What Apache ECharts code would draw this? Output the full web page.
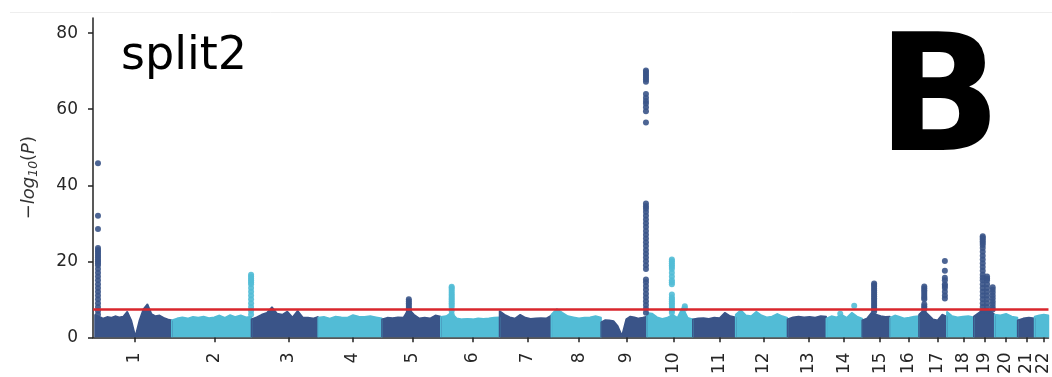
<!DOCTYPE html>
<html>
<head>
<meta charset="utf-8">
<script src="https://cdn.jsdelivr.net/npm/echarts@6/dist/echarts.min.js"></script>
<style>
html,body{margin:0;padding:0;background:#fff;}
#chart{width:1052px;height:377px;}
</style>
</head>
<body>
<div id="chart"></div>
<script>
// Chromosome layout (cumulative genome position, Mb)
const chromosomes = ['1','2','3','4','5','6','7','8','9','10','11','12','13','14','15','16','17','18','19','20','21','22'];
const chrStart = [6, 237, 477, 678, 870, 1047, 1224, 1380, 1530, 1668, 1806, 1935, 2091, 2208, 2316, 2400, 2487, 2571, 2652, 2715, 2784, 2835];
const chrEnd   = [237, 477, 678, 870, 1047, 1224, 1380, 1530, 1668, 1806, 1935, 2091, 2208, 2316, 2400, 2487, 2571, 2652, 2715, 2784, 2835, 2877];
const tickPos  = [126, 366, 588, 783, 963, 1143, 1308, 1464, 1608, 1749, 1887, 2019, 2154, 2262, 2370, 2457, 2544, 2622, 2685, 2748, 2811, 2862];
const yTicks = [0, 20, 40, 60, 80];
const threshold = 7.3;

// Upper edge of the dense background SNP cloud per chromosome (-log10 P), evenly spaced along each chromosome
const bgTop = [
  [6, 5.5, 5, 5.4, 5.2, 5.6, 5.3, 5.5, 6.8, 4.5, 0.3, 4.5, 7.5, 8.8, 6.2, 5.6, 5.8, 5.2, 4.8, 4.5],
  [4.5, 5.0, 5.3, 5.0, 5.4, 5.2, 5.5, 5.1, 5.3, 5.8, 5.2, 5.9, 5.4, 5.8, 5.3, 5.5],
  [4.8, 5.3, 6.0, 6.5, 8.0, 6.3, 6.0, 6.8, 5.3, 7.0, 5.3, 5.2, 5.0, 5.4],
  [5.2, 5.4, 5.0, 5.5, 5.3, 5.2, 5.9, 5.5, 5.4, 5.6, 5.3, 5.0],
  [4.8, 5.2, 5.1, 5.3, 5.2, 7.5, 6.0, 5.0, 5.2, 5.0, 5.8, 5.5],
  [5.4, 5.6, 6.5, 5.0, 4.8, 4.9, 4.8, 5.0, 4.9, 5.0, 5.2, 5.3],
  [7.0, 6.0, 5.3, 5.0, 6.0, 5.2, 4.9, 5.0, 5.1, 5.0, 5.8],
  [6.0, 7.5, 6.5, 5.6, 5.3, 5.0, 5.2, 5.3, 5.6, 5.2],
  [4.0, 4.6, 4.5, 4.3, 3.0, 0.5, 4.8, 5.5, 5.3, 5.0, 5.2, 5.5],
  [6.5, 6.3, 5.3, 4.9, 5.2, 6.0, 5.2, 8.0, 5.2, 4.8],
  [4.8, 5.0, 5.1, 4.9, 5.2, 5.1, 6.5, 5.6, 5.3],
  [6.0, 7.2, 5.8, 5.6, 6.8, 5.8, 5.3, 5.5, 6.2, 5.6, 5.2],
  [4.8, 5.3, 5.5, 5.3, 5.4, 5.2, 5.6, 5.5],
  [5.0, 5.6, 5.3, 6.0, 5.2, 6.5, 5.5, 5.0],
  [4.5, 5.0, 6.5, 6.0, 5.6, 5.4, 5.5],
  [5.2, 5.8, 5.4, 5.0, 5.2, 5.5, 5.6],
  [6.0, 7.2, 6.0, 4.8, 4.5, 6.0, 5.5],
  [6.8, 5.6, 5.3, 5.5, 5.6, 5.3],
  [5.5, 6.5, 7.5, 7.2, 6.0],
  [6.0, 5.8, 6.2, 5.5, 5.2],
  [4.5, 5.0, 5.2, 5.0],
  [5.5, 5.8, 6.0, 5.8]
];

// Associated loci: position, chromosome index and the -log10 P of the SNPs standing out above the cloud
const hitPos = [15, 476, 951, 1080, 1665, 1743, 1782, 2250, 2292, 2352, 2503, 2565, 2679, 2692, 2709];
const hitChr = [0, 1, 4, 5, 8, 9, 9, 13, 13, 14, 16, 16, 18, 18, 18];
const hitVals = [
  [45.8, 32.0, 28.5, 23.5, 23, 22.5, 22, 21.5, 21, 20.5, 20, 19.5, 19, 18, 17, 16, 15, 14, 13, 12, 11, 10, 9, 8, 7, 6],
  [16.5, 16, 15.5, 15, 14.5, 14, 13, 12, 11, 10, 9, 8, 7, 6],
  [10, 9.5, 9, 8.5, 8, 7.5, 7, 6.5, 6],
  [13.3, 13, 12.5, 12, 11.5, 11, 10.5, 10, 9.5, 9, 8.5, 8, 7, 6],
  [70.2, 69.8, 69.3, 68.8, 68.3, 67.8, 67.2, 64, 63, 62.2, 61.5, 60.5, 59.5, 56.5,
   35.2, 34.5, 33.8, 33, 32, 31, 30, 29, 28, 27, 26, 25, 24, 23, 22, 21, 20, 19, 18,
   15.2, 14.5, 13.5, 12.5, 11.5, 10.5, 9.5, 8.5, 7.5, 6.5],
  [20.5, 20, 19.5, 19, 18.5, 18, 17, 16, 15, 14.5, 14, 11.3, 10.5, 10, 9.5, 9, 8.5, 8, 7.5, 7, 6.5],
  [8.2, 7.6],
  [6.2],
  [8.3],
  [14.2, 13.8, 13.3, 12.8, 12.3, 11.8, 11.3, 10.8, 10.3, 9.8, 9.3, 8.8, 8.3, 7.8, 7.3, 6.8],
  [13.4, 12.9, 12.4, 11.9, 11.4, 10.9, 10.4, 10, 8.7, 8.2, 7.7, 7.3],
  [20.1, 17.5, 15.7, 15, 14, 13.5, 13, 12, 11, 10.2],
  [26.6, 26.2, 25.8, 25.3, 24.8, 24.3, 23.5, 22.5, 21.5, 20.5, 19.5, 18.5, 17.5, 16.5, 15.7, 15, 14, 13, 12, 11, 10, 9, 8, 7],
  [16, 15.5, 15, 14, 13, 12, 11, 10, 9, 8, 7],
  [13.2, 12.5, 11.8, 11, 10.3, 9.5, 8.8, 8, 7.3]
];

const DARK = '#3a5488';
const LIGHT = '#52bcd6';
const colorOf = i => (i % 2 === 0 ? DARK : LIGHT);
const FONT = 'DejaVu Sans';

const series = [];
chromosomes.forEach((c, i) => {
  const vals = bgTop[i];
  const n = vals.length;
  const data = [[chrStart[i], 0]];
  vals.forEach((v, j) => {
    data.push([chrStart[i] + j * (chrEnd[i] - chrStart[i]) / (n - 1), v]);
  });
  data.push([chrEnd[i], 0]);
  series.push({
    type: 'line', name: 'chr' + c, data: data, symbol: 'none', silent: true,
    lineStyle: { width: 1.5, color: colorOf(i) },
    areaStyle: { color: colorOf(i), opacity: 1 },
    z: 2
  });
});
hitPos.forEach((p, k) => {
  series.push({
    type: 'scatter', data: hitVals[k].map(v => [p, v]), symbolSize: 6, silent: true,
    itemStyle: { color: colorOf(hitChr[k]), opacity: 0.9 },
    z: 3
  });
});
series.push({
  type: 'line', data: [], z: 10, silent: true,
  markLine: {
    silent: true, symbol: ['none', 'none'], animation: false,
    lineStyle: { color: '#d9262c', width: 2.5, type: 'solid' },
    label: { show: false },
    data: [{ yAxis: threshold }]
  }
});

const chart = echarts.init(document.getElementById('chart'));
chart.setOption({
  animation: false,
  backgroundColor: '#fff',
  grid: { left: 93, right: 0, top: 18, bottom: 39, containLabel: false },
  xAxis: {
    type: 'value', min: 0, max: 2877,
    axisLine: { show: true, lineStyle: { color: '#222', width: 1.5 } },
    axisTick: { show: true, customValues: tickPos, length: 5, lineStyle: { color: '#222', width: 1.5 } },
    axisLabel: {
      customValues: tickPos, rotate: 90, margin: 15,
      fontFamily: FONT, fontSize: 17, color: '#262626',
      formatter: v => { const i = tickPos.indexOf(v); return i >= 0 ? chromosomes[i] : ''; }
    },
    splitLine: { show: false }
  },
  yAxis: {
    type: 'value', min: 0, max: 84,
    name: '{a|−}{i|log}{s|10}{a|(}{i|P}{a|)}',
    nameLocation: 'middle', nameRotate: 90, nameGap: 53,
    nameTextStyle: {
      rich: {
        a: { fontFamily: FONT, fontSize: 18, color: '#333', lineHeight: 22 },
        i: { fontFamily: FONT, fontSize: 18, fontStyle: 'italic', color: '#333', lineHeight: 22 },
        s: { fontFamily: FONT, fontSize: 12.5, fontStyle: 'italic', color: '#333', lineHeight: 12, verticalAlign: 'bottom' }
      }
    },
    axisLine: { show: true, lineStyle: { color: '#222', width: 1.5 } },
    axisTick: { show: true, customValues: yTicks, length: 5, lineStyle: { color: '#222', width: 1.5 } },
    axisLabel: { customValues: yTicks, margin: 15, fontFamily: FONT, fontSize: 17, color: '#262626' },
    splitLine: { show: false }
  },
  graphic: [
    { type: 'line', shape: { x1: 10, y1: 12.5, x2: 1052, y2: 12.5 }, style: { stroke: '#eeeeee', lineWidth: 1 }, silent: true },
    { type: 'text', left: 121, top: 34, style: { text: 'split2', fontFamily: FONT, fontSize: 46, fill: '#000' }, z: 20 },
    { type: 'text', left: 877, top: 26, style: { text: 'B', fontFamily: FONT, fontWeight: 'bold', fontSize: 163, fill: '#000' }, z: 20 }
  ],
  series: series
});
</script>
</body>
</html>
